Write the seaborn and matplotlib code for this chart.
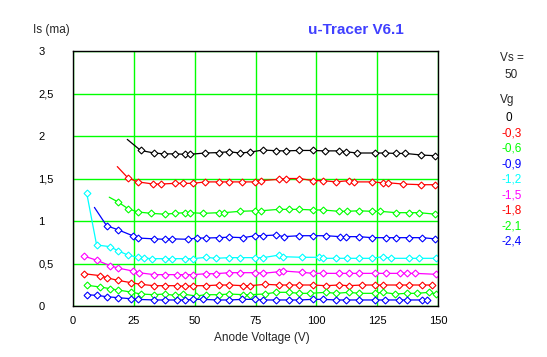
import matplotlib
matplotlib.use('Agg')
import matplotlib.pyplot as plt
import seaborn as sns

# grid voltages and colours of the nine traces
vg_labels = ['0', '-0,3', '-0,6', '-0,9', '-1,2', '-1,5', '-1,8', '-2,1', '-2,4']
vg_colors = ['black', 'red', '#00ff00', 'blue', 'cyan', 'magenta', 'red', '#00ff00', 'blue']

# anode voltage (V) / screen current (mA)
v0 = [22.3, 27.8, 33.3, 37.4, 41.8, 45.9, 48.1, 54.4, 59.9, 64.0, 68.6, 72.7, 78.0, 83.4, 87.5, 93.0,
      98.5, 103.7, 109.2, 112.2, 116.6, 124.0, 128.1, 132.8, 136.6, 143.2, 148.9]
i0 = [1.96, 1.83, 1.80, 1.79, 1.79, 1.785, 1.785, 1.80, 1.805, 1.815, 1.80, 1.81, 1.835, 1.827, 1.825, 1.83,
      1.83, 1.825, 1.825, 1.815, 1.80, 1.80, 1.80, 1.795, 1.795, 1.776, 1.768]

v1 = [18.2, 22.6, 26.7, 33.0, 36.3, 41.8, 45.1, 49.2, 54.4, 59.9, 64.3, 69.5, 74.7, 77.1, 84.5, 87.5, 93.0,
      98.5, 102.6, 108.1, 113.3, 115.5, 122.9, 127.3, 129.5, 135.5, 143.2, 148.9]
i1 = [1.64, 1.506, 1.46, 1.435, 1.435, 1.443, 1.443, 1.443, 1.46, 1.46, 1.46, 1.46, 1.46, 1.475, 1.49, 1.50, 1.50,
      1.475, 1.475, 1.46, 1.475, 1.46, 1.46, 1.45, 1.45, 1.435, 1.427, 1.427]

v2 = [14.9, 18.5, 22.6, 26.7, 32.2, 37.7, 41.8, 45.9, 48.1, 53.6, 59.9, 62.1, 68.6, 74.7, 77.1, 84.5, 88.9, 93.0,
      98.5, 102.6, 109.2, 112.4, 117.4, 122.9, 126.2, 132.8, 138.2, 142.3, 148.9]
i2 = [1.28, 1.224, 1.145, 1.106, 1.09, 1.08, 1.09, 1.098, 1.098, 1.09, 1.098, 1.098, 1.114, 1.12, 1.12, 1.137,
      1.137, 1.137, 1.13, 1.13, 1.114, 1.114, 1.12, 1.114, 1.114, 1.098, 1.098, 1.098, 1.08]

v3 = [8.8, 13.8, 18.4, 24.5, 26.6, 33.3, 37.7, 40.7, 47.3, 50.8, 54.7, 59.9, 64.3, 70.0, 74.9, 78.0, 83.3, 86.7,
      93.0, 98.5, 104.0, 109.7, 112.0, 117.4, 122.9, 128.5, 132.8, 138.2, 143.4, 148.9]
i3 = [1.16, 0.945, 0.898, 0.827, 0.80, 0.79, 0.785, 0.79, 0.785, 0.80, 0.80, 0.804, 0.81, 0.804, 0.827, 0.827,
      0.835, 0.816, 0.827, 0.827, 0.827, 0.816, 0.816, 0.816, 0.804, 0.804, 0.804, 0.804, 0.804, 0.79]

v4 = [5.6, 9.7, 15.2, 18.4, 22.5, 26.6, 29.0, 32.3, 37.7, 40.7, 46.2, 49.5, 54.7, 58.6, 64.3, 68.6, 74.9, 78.2,
      84.8, 86.4, 94.1, 101.0, 102.9, 108.1, 112.7, 117.7, 122.9, 127.3, 130.7, 138.1, 142.3, 149.0]
i4 = [1.333, 0.718, 0.698, 0.651, 0.60, 0.573, 0.565, 0.557, 0.557, 0.557, 0.557, 0.557, 0.573, 0.561, 0.569,
      0.569, 0.569, 0.569, 0.60, 0.58, 0.573, 0.573, 0.561, 0.561, 0.561, 0.561, 0.561, 0.58, 0.561, 0.561,
      0.561, 0.561]

v5 = [4.4, 9.9, 15.2, 18.4, 24.5, 27.0, 33.3, 37.7, 42.9, 46.2, 49.5, 54.7, 58.6, 64.3, 68.6, 74.9, 78.0, 84.8,
      86.4, 94.1, 98.8, 102.9, 109.2, 113.3, 117.7, 124.0, 128.6, 134.4, 137.1, 140.7, 149.0]
i5 = [0.588, 0.537, 0.474, 0.447, 0.412, 0.392, 0.369, 0.369, 0.369, 0.369, 0.369, 0.38, 0.38, 0.392, 0.392,
      0.392, 0.384, 0.404, 0.412, 0.396, 0.384, 0.384, 0.384, 0.384, 0.384, 0.384, 0.384, 0.384, 0.384, 0.384,
      0.373]

v6 = [4.4, 11.2, 13.8, 18.4, 23.7, 27.8, 33.3, 37.7, 42.9, 46.2, 49.5, 54.7, 59.9, 64.3, 70.0, 72.7, 79.0, 84.8,
      88.6, 93.0, 98.5, 104.0, 109.2, 113.3, 118.8, 124.0, 127.3, 133.8, 138.2, 143.4, 147.6]
i6 = [0.38, 0.357, 0.333, 0.302, 0.275, 0.255, 0.239, 0.239, 0.239, 0.231, 0.239, 0.239, 0.247, 0.247, 0.239,
      0.239, 0.255, 0.247, 0.247, 0.247, 0.247, 0.239, 0.247, 0.239, 0.247, 0.247, 0.247, 0.247, 0.247, 0.247,
      0.247]

v7 = [5.9, 11.1, 15.2, 18.4, 23.7, 27.8, 33.3, 37.7, 41.8, 45.1, 50.5, 54.7, 59.9, 64.3, 70.0, 72.7, 78.8, 83.3,
      88.6, 93.0, 97.4, 104.0, 108.1, 113.3, 117.7, 124.0, 127.3, 132.5, 137.1, 141.2, 146.5, 149.0]
i7 = [0.243, 0.224, 0.204, 0.188, 0.165, 0.141, 0.133, 0.141, 0.125, 0.141, 0.118, 0.133, 0.133, 0.141, 0.133,
      0.133, 0.141, 0.161, 0.161, 0.149, 0.149, 0.161, 0.149, 0.161, 0.149, 0.149, 0.161, 0.141, 0.149, 0.149,
      0.161, 0.141]

v8 = [5.9, 9.7, 13.8, 18.4, 23.7, 26.6, 33.3, 37.7, 42.9, 46.2, 49.5, 53.6, 59.1, 64.3, 69.5, 74.9, 78.0, 83.3,
      88.6, 93.0, 98.5, 102.9, 108.1, 112.2, 117.7, 124.0, 128.2, 133.8, 137.1, 143.4, 145.3]
i8 = [0.133, 0.125, 0.11, 0.098, 0.086, 0.078, 0.071, 0.071, 0.071, 0.071, 0.078, 0.078, 0.071, 0.071, 0.078,
      0.078, 0.071, 0.071, 0.071, 0.071, 0.078, 0.078, 0.071, 0.071, 0.071, 0.071, 0.071, 0.071, 0.071, 0.071,
      0.071]

# the top four traces start with a bare line segment (no marker on the first sample)
no_first_marker = [True, True, True, True, False, False, False, False, False]

x_ticks = [0, 25, 50, 75, 100, 125, 150]
y_ticks = [0, 0.5, 1, 1.5, 2, 2.5, 3]
y_tick_labels = ['0', '0,5', '1', '1,5', '2', '2,5', '3']

sns.set_style('white')
plt.rcParams['font.family'] = ['Liberation Sans', 'DejaVu Sans']

fig = plt.figure(figsize=(5.47, 3.57), dpi=100)
ax = fig.add_axes([73 / 547, 1 - 306 / 357, 365 / 547, 255 / 357])

ax.set_xlim(0, 150)
ax.set_ylim(0, 3)
ax.set_xticks(x_ticks)
ax.set_yticks(y_ticks)
ax.set_yticklabels(y_tick_labels, ha='left', va='top')
ax.grid(True, color='#00ff00', linewidth=1.0)
ax.set_axisbelow(True)
for sp in ax.spines.values():
    sp.set_color('black')
    sp.set_linewidth(1.0)
ax.tick_params(axis='both', direction='out', length=4, width=0.8, color='black', labelsize=8, labelcolor='black')
ax.tick_params(axis='x', pad=3)
ax.tick_params(axis='y', pad=21)
# nudge the y labels a little below their grid line, like the original
for lab in ax.get_yticklabels():
    lab.set_va('center_baseline')

curves = [(v0, i0), (v1, i1), (v2, i2), (v3, i3), (v4, i4), (v5, i5), (v6, i6), (v7, i7), (v8, i8)]
for (vv, ii), col, skip in zip(curves, vg_colors, no_first_marker):
    sns.lineplot(x=vv, y=ii, ax=ax, color=col, sort=False, estimator=None, linewidth=0.9,
                 marker='D', markersize=3.5, markerfacecolor='white', markeredgecolor=col,
                 markeredgewidth=0.8, markevery=slice(1, None) if skip else None)

ax.set_xlabel('')
ax.set_ylabel('')

fig.text(262 / 547, 1 - 338 / 357, 'Anode Voltage (V)', ha='center', va='center', fontsize=8.5)
fig.text(33 / 547, 1 - 30.5 / 357, 'Is (ma)', ha='left', va='center', fontsize=8.5)
fig.text(356 / 547, 1 - 30.5 / 357, 'u-Tracer V6.1', ha='center', va='center', fontsize=11,
         fontweight='bold', color='#4040ff')

fig.text(500 / 547, 1 - 58 / 357, 'Vs =', ha='left', va='center', fontsize=8.5)
fig.text(504 / 547, 1 - 75.5 / 357, '50', ha='left', va='center', fontsize=8.5)
fig.text(500 / 547, 1 - 100 / 357, 'Vg', ha='left', va='center', fontsize=8.5)
for k, (lab, col) in enumerate(zip(vg_labels, vg_colors)):
    xpos = 505 if lab == '0' else 501.5
    fig.text(xpos / 547, 1 - (118 + 15.45 * k) / 357, lab, ha='left', va='center', fontsize=8.5, color=col)

fig.savefig('out.png', dpi=100, facecolor='white')
